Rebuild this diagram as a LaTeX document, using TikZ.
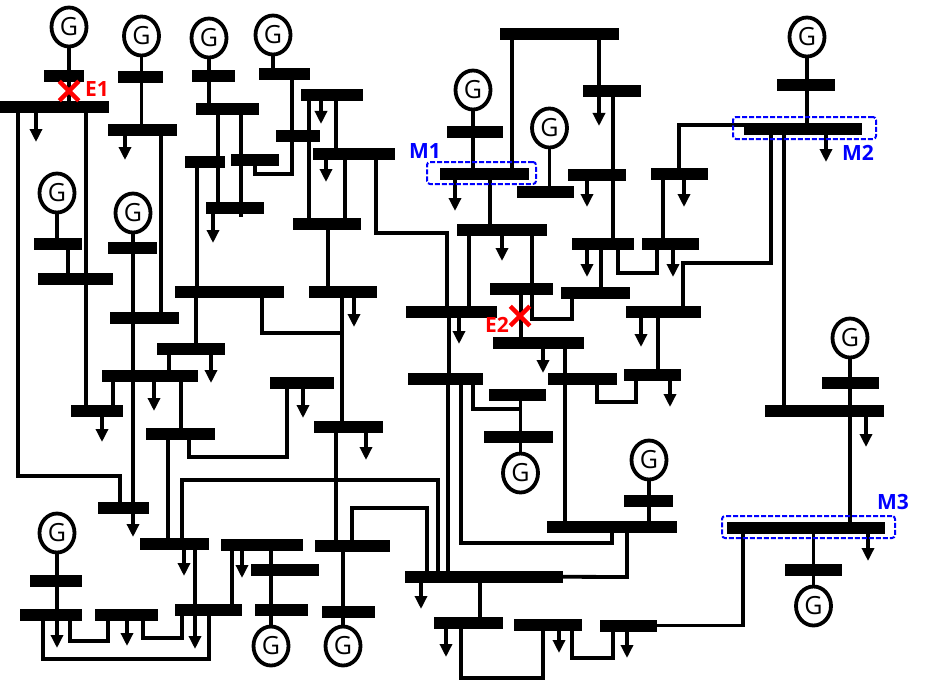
\documentclass[tikz,border=0pt]{standalone}
\usepackage{fontspec}
\setmainfont{Open Sans}
\usetikzlibrary{arrows.meta,shapes.geometric,shapes.misc}

\begin{document}
\begin{tikzpicture}[x=1pt,y=-1pt,
   bus/.style={rectangle,fill=black,inner sep=0pt,minimum height=12pt},
   gen/.style={ellipse,draw,fill=white,line width=3.8pt,inner sep=0pt,
    minimum width=35pt,minimum height=39pt,font=\fontsize{25}{25}\selectfont},
   link/.style={line width=3.8pt},
   load/.style={line width=3.8pt,-{Triangle[width=12pt,length=13pt]}},
   mbox/.style={rectangle,draw=blue,line width=2pt,rounded corners=3pt,
    dash pattern=on 5pt off 2pt,inner sep=0pt},
   mlabel/.style={text=blue,inner sep=0pt,font=\fontsize{21}{21}\selectfont\bfseries},
   elabel/.style={text=red,inner sep=0pt,font=\fontsize{21}{21}\selectfont\bfseries},
   fault/.style={cross out,draw=red,line width=4.5pt,inner sep=0pt,minimum size=15pt}
    ]
  \useasboundingbox (0,0) rectangle (925,682);

  % -- buses, left part
  \node[bus,minimum width=40pt] at (64,76) (b1) {};
  \node[bus,minimum width=109pt] at (54.5,107.5) (b2) {};
  \node[bus,minimum width=45pt] at (140.5,77.5) (b3) {};
  \node[bus,minimum width=69pt] at (142.5,130) (b4) {};
  \node[bus,minimum width=43pt] at (213.5,76) (b5) {};
  \node[bus,minimum width=63pt] at (227.5,109) (b6) {};
  \node[bus,minimum width=51pt] at (284.5,74) (b7) {};
  \node[bus,minimum width=44pt] at (298,136) (b8) {};
  \node[bus,minimum width=40pt] at (205,162) (b9) {};
  \node[bus,minimum width=48pt] at (255,159.5) (b10) {};
  \node[bus,minimum width=58pt] at (235,208) (b11) {};
  \node[bus,minimum width=62pt] at (332,95.5) (b12) {};
  \node[bus,minimum width=82pt] at (354,154) (b13) {};
  \node[bus,minimum width=68pt] at (327,223.5) (b14) {};
  \node[bus,minimum width=48pt] at (58,243.5) (b15) {};
  \node[bus,minimum width=75pt] at (75.5,278.5) (b16) {};
  \node[bus,minimum width=49pt] at (132.5,247.5) (b17) {};
  \node[bus,minimum width=69pt] at (144.5,318) (b18) {};
  \node[bus,minimum width=109pt] at (229.5,291.5) (b19) {};
  \node[bus,minimum width=68pt] at (343,291.5) (b20) {};
  \node[bus,minimum width=68pt] at (191,348.5) (b21) {};
  \node[bus,minimum width=96pt] at (150,376) (b22) {};
  \node[bus,minimum width=52pt] at (97,411) (b23) {};
  \node[bus,minimum width=69pt] at (180.5,434) (b24) {};
  \node[bus,minimum width=64pt] at (302,383) (b25) {};
  \node[bus,minimum width=69pt] at (348.5,426.5) (b26) {};
  \node[bus,minimum width=51pt] at (123.5,508) (b27) {};
  \node[bus,minimum width=69pt] at (174.5,544) (b28) {};
  \node[bus,minimum width=82pt] at (262,544.5) (b29) {};
  \node[bus,minimum width=75pt] at (352.5,546) (b30) {};
  \node[bus,minimum width=68pt] at (285,569.5) (b31) {};
  \node[bus,minimum width=52pt] at (56,580.5) (b32) {};
  \node[bus,minimum width=62pt] at (51,614.5) (b33) {};
  \node[bus,minimum width=63pt] at (126.5,614.5) (b34) {};
  \node[bus,minimum width=67pt] at (208.5,610) (b35) {};
  \node[bus,minimum width=53pt] at (281.5,610) (b36) {};
  \node[bus,minimum width=53pt] at (348.5,611.5) (b37) {};

  % -- buses, right part
  \node[bus,minimum width=119pt] at (559.5,34) (b38) {};
  \node[bus,minimum width=56pt] at (475,132) (b39) {};
  \node[bus,minimum width=89pt] at (484.5,174) (b40) {};
  \node[bus,minimum width=57pt] at (545.5,191.5) (b41) {};
  \node[bus,minimum width=90pt] at (502,230) (b42) {};
  \node[bus,minimum width=91pt] at (451.5,311.5) (b43) {};
  \node[bus,minimum width=75pt] at (445.5,378.5) (b44) {};
  \node[bus,minimum width=63pt] at (521.5,288.5) (b45) {};
  \node[bus,minimum width=69pt] at (595.5,293) (b46) {};
  \node[bus,minimum width=91pt] at (538.5,342.5) (b47) {};
  \node[bus,minimum width=69pt] at (582.5,378.5) (b48) {};
  \node[bus,minimum width=57pt] at (517.5,395) (b49) {};
  \node[bus,minimum width=69pt] at (518.5,436.5) (b50) {};
  \node[bus,minimum width=58pt] at (612,91.5) (b51) {};
  \node[bus,minimum width=58pt] at (597,174.5) (b52) {};
  \node[bus,minimum width=57pt] at (679.5,174) (b53) {};
  \node[bus,minimum width=62pt] at (603,243.5) (b54) {};
  \node[bus,minimum width=57pt] at (670.5,243.5) (b55) {};
  \node[bus,minimum width=75pt] at (663.5,312) (b56) {};
  \node[bus,minimum width=57pt] at (652.5,374.5) (b57) {};
  \node[bus,minimum width=58pt] at (806,85) (b58) {};
  \node[bus,minimum width=118pt] at (803,128.5) (b59) {};
  \node[bus,minimum width=57pt] at (850.5,383) (b60) {};
  \node[bus,minimum width=119pt] at (824.5,411) (b61) {};
  \node[bus,minimum width=158pt] at (806,527.5) (b62) {};
  \node[bus,minimum width=57pt] at (813.5,570) (b63) {};
  \node[bus,minimum width=49pt] at (648.5,501) (b64) {};
  \node[bus,minimum width=130pt] at (612,526.5) (b65) {};
  \node[bus,minimum width=158pt] at (484,576.5) (b66) {};
  \node[bus,minimum width=69pt] at (468.5,623) (b67) {};
  \node[bus,minimum width=68pt] at (548,625) (b68) {};
  \node[bus,minimum width=57pt] at (628.5,625.5) (b69) {};

  % -- generators
  \node[gen] at (69,27) (g1) {G};
  \node[gen] at (141.5,36) (g2) {G};
  \node[gen] at (209,38) (g3) {G};
  \node[gen] at (273,35) (g4) {G};
  \node[gen] at (133,213) (g5) {G};
  \node[gen] at (57,193) (g6) {G};
  \node[gen] at (271,646) (g7) {G};
  \node[gen] at (57,533) (g8) {G};
  \node[gen] at (343,646) (g9) {G};
  \node[gen] at (473,90) (g10) {G};
  \node[gen] at (549.5,128) (g11) {G};
  \node[gen] at (520.5,473) (g12) {G};
  \node[gen] at (649,460) (g13) {G};
  \node[gen] at (813.5,606) (g14) {G};
  \node[gen] at (850,338) (g15) {G};
  \node[gen] at (807,37) (g16) {G};

  % -- lines, left part
  \draw[link] (g1.south) -- (b1 -| g1);
  \draw[link] (b1 -| g1) -- (b2 -| g1);
  \draw[link] (b2 -| 86,0) -- (b23 -| 86,0);
  \draw[link] (b2 -| 18,0) -- (18,476) -- (120,476) -- (b27 -| 120,0);
  \draw[link] (g2.south) -- (b3 -| g2);
  \draw[link] (b3 -| g2) -- (b4 -| g2);
  \draw[link] (b4 -| 161,0) -- (b18 -| 161,0);
  \draw[link] (g3.south) -- (b5 -| g3);
  \draw[link] (b5 -| g3) -- (b6 -| g3);
  \draw[link] (b6 -| 218,0) -- (b11 -| 218,0);
  \coordinate (j3) at (241,217);
  \draw[link] (b6 -| j3) -- (j3);
  \draw[link] (g4.south) -- (b7 -| g4);
  \draw[link] (b7 -| 292,0) -- (292,174) -- (255,174) -- (b10 -| 255,0);
  \draw[link] (b9 -| 197,0) -- (b19 -| 197,0);
  \draw[link] (b19 -| 196,0) -- (b21 -| 196,0);
  \draw[link] (g5.south) -- (b17 -| g5);
  \draw[link] (b17 -| g5) -- (b27 -| g5);
  \draw[link] (g6.south) -- (b15 -| g6);
  \draw[link] (b15 -| 68,0) -- (b16 -| 68,0);
  \draw[link] (b21 -| 169,0) -- (b22 -| 169,0);
  \draw[link] (b22 -| 113,0) -- (b23 -| 113,0);
  \draw[link] (b22 -| 181,0) -- (b24 -| 181,0);
  \draw[link] (b24 -| 168,0) -- (b28 -| 168,0);
  \draw[link] (b24 -| 189,0) -- (189,457) -- (287,457) -- (b25 -| 287,0);
  \draw[link] (b28 -| 182,0) -- (182,480) -- (438,480) -- (b66 -| 438,0);
  \draw[link] (b28 -| 195,0) -- (b35 -| 195,0);
  \draw[link] (b29 -| 232,0) -- (b35 -| 232,0);
  \draw[link] (b29 -| g7) -- (b36 -| g7);
  \draw[link] (b36 -| g7) -- (g7.north);
  \draw[link] (g8.south) -- (b32 -| g8);
  \draw[link] (b32 -| g8) -- (b33 -| g8);
  \draw[link] (b33 -| 43,0) -- (43,659) -- (209,659) -- (b35 -| 209,0);
  \draw[link] (b33 -| 70,0) -- (70,641) -- (108,641) -- (b34 -| 108,0);
  \draw[link] (b34 -| 143,0) -- (143,638) -- (182,638) -- (b35 -| 182,0);
  \draw[link] (b12 -| 309,0) -- (b14 -| 309,0);
  \draw[link] (b12 -| 336,0) -- (b13 -| 336,0);
  \draw[link] (b13 -| 345,0) -- (b14 -| 345,0);
  \draw[link] (b13 -| 376,0) -- (376,233) -- (447,233) -- (b43 -| 447,0);
  \draw[link] (b14 -| 328,0) -- (b20 -| 328,0);
  \draw[link] (b20 -| 342,0) -- (b26 -| 342,0);
  \coordinate (j1) at (342,333);
  \draw[link] (b19 -| 262,0) -- (262,333) -- (j1);
  \draw[link] (b26 -| 336,0) -- (b30 -| 336,0);
  \draw[link] (b30 -| 352,0) -- (352,508) -- (427,508) -- (b66 -| 427,0);
  \draw[link] (b30 -| g9) -- (b37 -| g9);
  \draw[link] (b37 -| g9) -- (g9.north);

  % -- lines, right part
  \draw[link] (b38 -| 512,0) -- (b40 -| 512,0);
  \draw[link] (b38 -| 599,0) -- (b51 -| 599,0);
  \draw[link] (g10.south) -- (b39 -| g10);
  \draw[link] (b39 -| g10) -- (b40 -| g10);
  \draw[link] (g11.south) -- (b41 -| g11);
  \draw[link] (b40 -| 490,0) -- (b42 -| 490,0);
  \draw[link] (b42 -| 469,0) -- (b43 -| 469,0);
  \draw[link] (b42 -| 532,0) -- (b45 -| 532,0);
  \draw[link] (b45 -| 532,0) -- (532,319) -- (572,319) -- (b46 -| 572,0);
  \draw[link] (b45 -| 521,0) -- (b47 -| 521,0);
  \draw[link] (b43 -| 449,0) -- (b44 -| 449,0);
  \draw[link] (b44 -| 448,0) -- (b66 -| 448,0);
  \draw[link] (b47 -| 565,0) -- (b65 -| 565,0);
  \coordinate (j2) at (520,409);
  \draw[link] (b44 -| 473,0) -- (473,409) -- (j2);
  \draw[link] (b44 -| 461,0) -- (461,543) -- (612,543) -- (b65 -| 612,0);
  \draw[link] (b49 -| g12) -- (b50 -| g12);
  \draw[link] (b50 -| g12) -- (g12.north);
  \draw[link] (b65 -| 627,0) -- (627,577) -- (b66);
  \draw[link] (g13.south) -- (b64 -| g13);
  \draw[link] (b64 -| g13) -- (b65 -| g13);
  \draw[link] (b66 -| 480,0) -- (b67 -| 480,0);
  \draw[link] (b67 -| 461,0) -- (461,678) -- (543,678) -- (b68 -| 543,0);
  \draw[link] (b68 -| 572,0) -- (572,658) -- (613,658) -- (b69 -| 613,0);
  \draw[link] (b69) -- (743,625.5) -- (b62 -| 743,0);
  \draw[link] (b62 -| g14) -- (b63 -| g14);
  \draw[link] (b63 -| g14) -- (g14.north);
  \draw[link] (g15.south) -- (b60 -| g15);
  \draw[link] (b60 -| g15) -- (b62 -| g15);
  \draw[link] (b59 -| 784,0) -- (b61 -| 784,0);
  \draw[link] (b59 -| 771,0) -- (771,263) -- (683,263) -- (b56 -| 683,0);
  \draw[link] (b56 -| 658,0) -- (b57 -| 658,0);
  \draw[link] (b57 -| 636,0) -- (636,402) -- (597,402) -- (b48 -| 597,0);
  \draw[link] (b59 |- 0,125) -- (679,125) -- (b53 -| 679,0);
  \draw[link] (g16.south) -- (b58 -| g16);
  \draw[link] (b58 -| g16) -- (b59 -| g16);
  \draw[link] (b51 -| 613,0) -- (b54 -| 613,0);
  \draw[link] (b53 -| 663,0) -- (b55 -| 663,0);
  \draw[link] (b54 -| 601,0) -- (b46 -| 601,0);
  \draw[link] (b54 -| 618,0) -- (618,273) -- (657,273) -- (b55 -| 657,0);

  % -- loads
  \coordinate (l1) at (36,142); \draw[load] (b2 -| l1) -- (l1);
  \coordinate (l2) at (125,160); \draw[load] (b4 -| l2) -- (l2);
  \coordinate (l3) at (213,243); \draw[load] (b11 -| l3) -- (l3);
  \coordinate (l4) at (321,124); \draw[load] (b12 -| l4) -- (l4);
  \coordinate (l5) at (326,182); \draw[load] (b13 -| l5) -- (l5);
  \coordinate (l6) at (354,327); \draw[load] (b20 -| l6) -- (l6);
  \coordinate (l7) at (211,383); \draw[load] (b21 -| l7) -- (l7);
  \coordinate (l8) at (154,411); \draw[load] (b22 -| l8) -- (l8);
  \coordinate (l9) at (102,442); \draw[load] (b23 -| l9) -- (l9);
  \coordinate (l10) at (303,418); \draw[load] (b25 -| l10) -- (l10);
  \coordinate (l11) at (366,460); \draw[load] (b26 -| l11) -- (l11);
  \coordinate (l12) at (133,537); \draw[load] (b27 -| l12) -- (l12);
  \coordinate (l13) at (184,576); \draw[load] (b28 -| l13) -- (l13);
  \coordinate (l14) at (242,578); \draw[load] (b29 -| l14) -- (l14);
  \coordinate (l15) at (57,648); \draw[load] (b33 -| l15) -- (l15);
  \coordinate (l16) at (127,646); \draw[load] (b34 -| l16) -- (l16);
  \coordinate (l17) at (195,649); \draw[load] (b35 -| l17) -- (l17);
  \coordinate (l18) at (455,211); \draw[load] (b40 -| l18) -- (l18);
  \coordinate (l19) at (502,261); \draw[load] (b42 -| l19) -- (l19);
  \coordinate (l20) at (459,344); \draw[load] (b43 -| l20) -- (l20);
  \coordinate (l21) at (543,373); \draw[load] (b47 -| l21) -- (l21);
  \coordinate (l22) at (599,126); \draw[load] (b51 -| l22) -- (l22);
  \coordinate (l23) at (587,207); \draw[load] (b52 -| l23) -- (l23);
  \coordinate (l24) at (684,207); \draw[load] (b53 -| l24) -- (l24);
  \coordinate (l25) at (587,277); \draw[load] (b54 -| l25) -- (l25);
  \coordinate (l26) at (673,277); \draw[load] (b55 -| l26) -- (l26);
  \coordinate (l27) at (641,347); \draw[load] (b56 -| l27) -- (l27);
  \coordinate (l28) at (670,407); \draw[load] (b57 -| l28) -- (l28);
  \coordinate (l29) at (826,162); \draw[load] (b59 -| l29) -- (l29);
  \coordinate (l30) at (866,447); \draw[load] (b61 -| l30) -- (l30);
  \coordinate (l31) at (868,561); \draw[load] (b62 -| l31) -- (l31);
  \coordinate (l32) at (421,609); \draw[load] (b66 -| l32) -- (l32);
  \coordinate (l33) at (446,657); \draw[load] (b67 -| l33) -- (l33);
  \coordinate (l34) at (559,653); \draw[load] (b68 -| l34) -- (l34);
  \coordinate (l35) at (627,658); \draw[load] (b69 -| l35) -- (l35);

  % -- marked buses
  \node[mbox,minimum width=109pt,minimum height=22pt] at (481.5,173) (m1) {};
  \node[mbox,minimum width=143pt,minimum height=22pt] at (804.5,128) (m2) {};
  \node[mbox,minimum width=173pt,minimum height=22pt] at (808.5,527) (m3) {};
  \node[mlabel] at (425,151) (t1) {M1};
  \node[mlabel] at (858,153) (t2) {M2};
  \node[mlabel] at (893,502) (t3) {M3};

  % -- faults
  \node[fault] at (69,91) (e1) {};
  \node[fault] at (520,316) (e2) {};
  \node[elabel] at (97,89) (t4) {E1};
  \node[elabel] at (497,325) (t5) {E2};

\end{tikzpicture}
\end{document}
